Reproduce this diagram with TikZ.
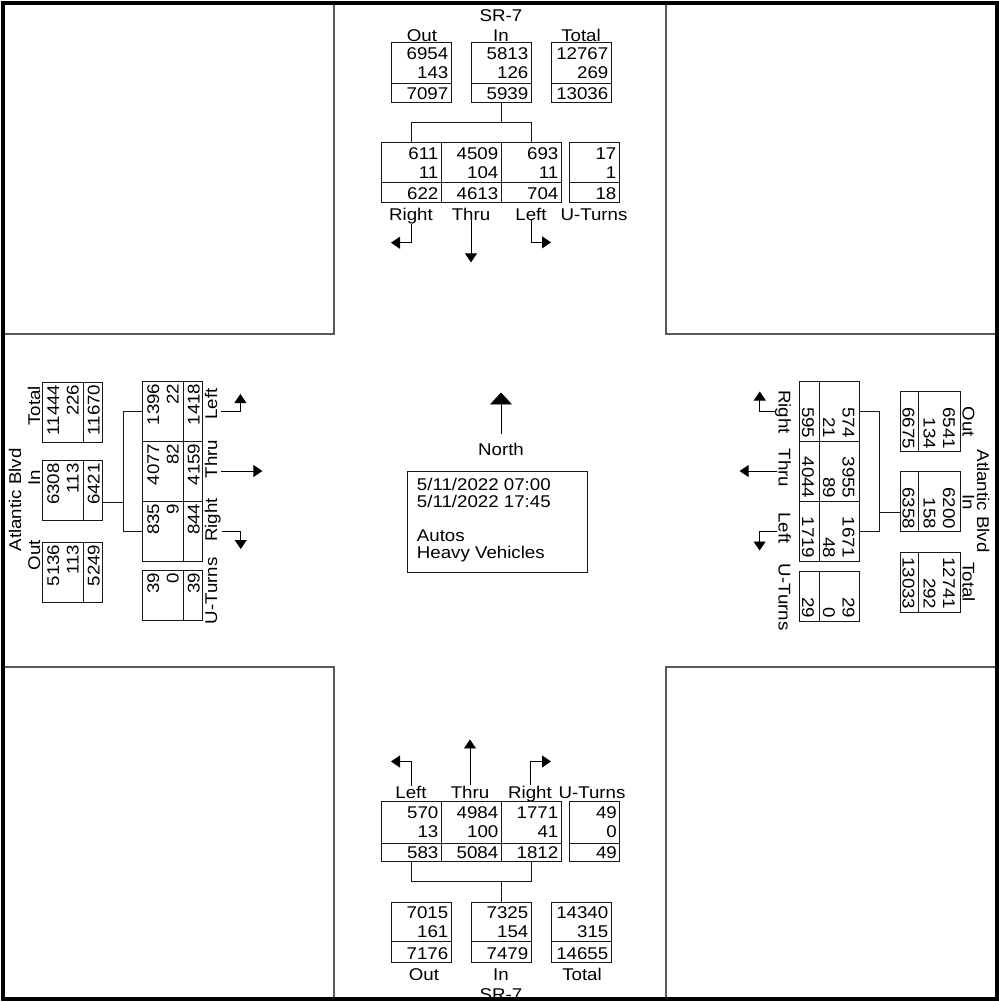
\documentclass[tikz,border=0pt]{standalone}
\usepackage{fontspec}
\setmainfont{Liberation Sans}[FakeStretch=1.1]
\usetikzlibrary{arrows.meta}

\begin{document}
\begin{tikzpicture}[x=1pt, y=-1pt, font=\fontsize{17}{19}\selectfont,
  box/.style={draw=black!90, line width=0.9pt, inner sep=0pt, minimum width=60pt, minimum height=60pt},
  ubox/.style={box, minimum width=50pt},
  uboxv/.style={box, minimum height=50pt},
  num/.style={anchor=base east, inner sep=0pt},
  lbl/.style={anchor=base, inner sep=0pt},
  link/.style={draw=black!90, line width=0.9pt},
  move/.style={line width=0.9pt, -{Triangle[length=9pt,width=12pt]}},
  corner/.style={draw=black!65, line width=1.3pt}]
\useasboundingbox (0,0) rectangle (999,1002);

% corner blocks
\draw[corner] (3,334) -- (334,334) -- (334,3);
\draw[corner] (666,3) -- (666,334) -- (997,334);
\draw[corner] (3,667) -- (334,667) -- (334,999);
\draw[corner] (997,667) -- (666,667) -- (666,999);

% north approach
\node[lbl] (tname) at (501,21.5) {SR-7};
\node[lbl] (toutl) at (422,41) {Out};
\node[lbl] (tinl) at (501,41) {In};
\node[lbl] (ttotl) at (581,41) {Total};
\node[box] (tout) at (421,72) {};
\node[box] (tin) at (501,72) {};
\node[box] (ttot) at (581,72) {};
\draw[link] ([yshift=19pt]tout.south west) -- ([yshift=19pt]tout.south east);
\draw[link] ([yshift=19pt]tin.south west) -- ([yshift=19pt]tin.south east);
\draw[link] ([yshift=19pt]ttot.south west) -- ([yshift=19pt]ttot.south east);
\node[num] (tout1) at (448.5,59) {6954};
\node[num] (tout2) at (448.5,78.5) {143};
\node[num] (tout3) at (448.5,99.5) {7097};
\node[num] (tin1) at (528.5,59) {5813};
\node[num] (tin2) at (528.5,78.5) {126};
\node[num] (tin3) at (528.5,99.5) {5939};
\node[num] (ttot1) at (608.5,59) {12767};
\node[num] (ttot2) at (608.5,78.5) {269};
\node[num] (ttot3) at (608.5,99.5) {13036};

\node[box] (trt) at (411,172) {};
\node[box] (tth) at (471,172) {};
\node[box] (tlt) at (531,172) {};
\node[ubox] (tut) at (594,172) {};
\draw[link] ([yshift=20pt]trt.south west) -- ([yshift=20pt]tlt.south east);
\draw[link] ([yshift=20pt]tut.south west) -- ([yshift=20pt]tut.south east);
\node[num] (trt1) at (438.5,159) {611};
\node[num] (trt2) at (438.5,178.5) {11};
\node[num] (trt3) at (438.5,199.5) {622};
\node[num] (tth1) at (498.5,159) {4509};
\node[num] (tth2) at (498.5,178.5) {104};
\node[num] (tth3) at (498.5,199.5) {4613};
\node[num] (tlt1) at (558.5,159) {693};
\node[num] (tlt2) at (558.5,178.5) {11};
\node[num] (tlt3) at (558.5,199.5) {704};
\node[num] (tut1) at (616.5,159) {17};
\node[num] (tut2) at (616.5,178.5) {1};
\node[num] (tut3) at (616.5,199.5) {18};

\path (tin.south) ++(0,20) coordinate (tfork);
\draw[link] (tin.south) -- (tfork);
\draw[link] (trt.north) |- (tfork) -| (tlt.north);

\node[lbl] (trlab) at (411,220) {Right};
\node[lbl] (ttlab) at (471,220) {Thru};
\node[lbl] (tllab) at (531,220) {Left};
\node[lbl] (tulab) at (594,220) {U-Turns};
\draw[move] (trlab.south) |- ++(-20,19);
\draw[move] (ttlab.south) -- ++(0,42);
\draw[move] (tllab.south) |- ++(20,22);

% south approach
\node[lbl] (bllab) at (411,798) {Left};
\node[lbl] (btlab) at (470,798) {Thru};
\node[lbl] (brlab) at (530,798) {Right};
\node[lbl] (bulab) at (592,798) {U-Turns};
\draw[move] (bllab.north) |- ++(-20,-24);
\draw[move] (btlab.north) -- ++(0,-46);
\draw[move] (brlab.north) |- ++(21,-24);

\node[box] (blt) at (411,831) {};
\node[box] (bth) at (471,831) {};
\node[box] (brt) at (531,831) {};
\node[ubox] (but) at (594.5,831) {};
\draw[link] ([yshift=18pt]blt.south west) -- ([yshift=18pt]brt.south east);
\draw[link] ([yshift=18pt]but.south west) -- ([yshift=18pt]but.south east);
\node[num] (blt1) at (438.5,818) {570};
\node[num] (blt2) at (438.5,837.5) {13};
\node[num] (blt3) at (438.5,858.5) {583};
\node[num] (bth1) at (498.5,818) {4984};
\node[num] (bth2) at (498.5,837.5) {100};
\node[num] (bth3) at (498.5,858.5) {5084};
\node[num] (brt1) at (558.5,818) {1771};
\node[num] (brt2) at (558.5,837.5) {41};
\node[num] (brt3) at (558.5,858.5) {1812};
\node[num] (but1) at (617,818) {49};
\node[num] (but2) at (617,837.5) {0};
\node[num] (but3) at (617,858.5) {49};

\node[box] (bout) at (421,932) {};
\node[box] (bin) at (501,932) {};
\node[box] (btot) at (581,932) {};
\draw[link] ([yshift=21pt]bout.south west) -- ([yshift=21pt]bout.south east);
\draw[link] ([yshift=21pt]bin.south west) -- ([yshift=21pt]bin.south east);
\draw[link] ([yshift=21pt]btot.south west) -- ([yshift=21pt]btot.south east);
\node[num] (bout1) at (448.5,918) {7015};
\node[num] (bout2) at (448.5,937.5) {161};
\node[num] (bout3) at (448.5,959.5) {7176};
\node[num] (bin1) at (528.5,918) {7325};
\node[num] (bin2) at (528.5,937.5) {154};
\node[num] (bin3) at (528.5,959.5) {7479};
\node[num] (btot1) at (608.5,918) {14340};
\node[num] (btot2) at (608.5,937.5) {315};
\node[num] (btot3) at (608.5,959.5) {14655};

\path (bin.north) ++(0,-20) coordinate (bfork);
\draw[link] (bin.north) -- (bfork);
\draw[link] (blt.south) |- (bfork) -| (brt.south);

\node[lbl] (boutl) at (424,980) {Out};
\node[lbl] (binl) at (501,980) {In};
\node[lbl] (btotl) at (582,980) {Total};
\node[lbl] (bname) at (501,1000) {SR-7};

% west approach
\node[lbl, rotate=90] (lname) at (21,500) {Atlantic Blvd};
\node[lbl, rotate=90] (ltotl) at (40,406) {Total};
\node[lbl, rotate=90] (linl) at (40,478) {In};
\node[lbl, rotate=90] (loutl) at (40,555) {Out};
\node[box] (ltot) at (72,412) {};
\node[box] (lin) at (72,490.5) {};
\node[box] (lout) at (72,572) {};
\draw[link] ([xshift=-19pt]ltot.north east) -- ([xshift=-19pt]ltot.south east);
\draw[link] ([xshift=-19pt]lin.north east) -- ([xshift=-19pt]lin.south east);
\draw[link] ([xshift=-19pt]lout.north east) -- ([xshift=-19pt]lout.south east);
\node[num, rotate=90] (ltot1) at (59,384.5) {11444};
\node[num, rotate=90] (ltot2) at (78.5,384.5) {226};
\node[num, rotate=90] (ltot3) at (99.5,384.5) {11670};
\node[num, rotate=90] (lin1) at (59,463) {6308};
\node[num, rotate=90] (lin2) at (78.5,463) {113};
\node[num, rotate=90] (lin3) at (99.5,463) {6421};
\node[num, rotate=90] (lout1) at (59,544.5) {5136};
\node[num, rotate=90] (lout2) at (78.5,544.5) {113};
\node[num, rotate=90] (lout3) at (99.5,544.5) {5249};

\node[box] (llt) at (172,411) {};
\node[box] (lth) at (172,471) {};
\node[box] (lrt) at (172,531) {};
\node[uboxv] (lut) at (172,595) {};
\draw[link] ([xshift=-19pt]llt.north east) -- ([xshift=-19pt]lrt.south east);
\draw[link] ([xshift=-19pt]lut.north east) -- ([xshift=-19pt]lut.south east);
\node[num, rotate=90] (llt1) at (159,383.5) {1396};
\node[num, rotate=90] (llt2) at (178.5,383.5) {22};
\node[num, rotate=90] (llt3) at (199.5,383.5) {1418};
\node[num, rotate=90] (lth1) at (159,443.5) {4077};
\node[num, rotate=90] (lth2) at (178.5,443.5) {82};
\node[num, rotate=90] (lth3) at (199.5,443.5) {4159};
\node[num, rotate=90] (lrt1) at (159,503.5) {835};
\node[num, rotate=90] (lrt2) at (178.5,503.5) {9};
\node[num, rotate=90] (lrt3) at (199.5,503.5) {844};
\node[num, rotate=90] (lut1) at (159,572.5) {39};
\node[num, rotate=90] (lut2) at (178.5,572.5) {0};
\node[num, rotate=90] (lut3) at (199.5,572.5) {39};

\path ([yshift=-11.5pt]lin.east) ++(21,0) coordinate (lfork);
\draw[link] ([yshift=-11.5pt]lin.east) -- (lfork);
\draw[link] (llt.west) -| (lfork) |- (lrt.west);

\node[lbl, rotate=90] (lllab) at (217,404) {Left};
\node[lbl, rotate=90] (ltlab) at (217,459) {Thru};
\node[lbl, rotate=90] (lrlab) at (217,520) {Right};
\node[lbl, rotate=90] (lulab) at (217,591) {U-Turns};
\draw[move] ([xshift=4pt]lllab.south |- llt.east) -| ++(19,-17);
\draw[move] ([xshift=4pt]ltlab.south |- lth.east) -- ++(41,0);
\draw[move] ([xshift=1pt]lrlab.south |- lrt.east) -| ++(19,18);

% east approach
\node[lbl, rotate=-90] (rname) at (977,501) {Atlantic Blvd};
\node[lbl, rotate=-90] (routl) at (962.5,422) {Out};
\node[lbl, rotate=-90] (rinl) at (962.5,502) {In};
\node[lbl, rotate=-90] (rtotl) at (962.5,582) {Total};
\node[box] (rout) at (930,421.5) {};
\node[box] (rin) at (930,501.5) {};
\node[box] (rtot) at (930,582) {};
\draw[link] ([xshift=19pt]rout.north west) -- ([xshift=19pt]rout.south west);
\draw[link] ([xshift=19pt]rin.north west) -- ([xshift=19pt]rin.south west);
\draw[link] ([xshift=19pt]rtot.north west) -- ([xshift=19pt]rtot.south west);
\node[num, rotate=-90] (rout1) at (943,449) {6541};
\node[num, rotate=-90] (rout2) at (923.5,449) {134};
\node[num, rotate=-90] (rout3) at (902.5,449) {6675};
\node[num, rotate=-90] (rin1) at (943,529) {6200};
\node[num, rotate=-90] (rin2) at (923.5,529) {158};
\node[num, rotate=-90] (rin3) at (902.5,529) {6358};
\node[num, rotate=-90] (rtot1) at (943,609.5) {12741};
\node[num, rotate=-90] (rtot2) at (923.5,609.5) {292};
\node[num, rotate=-90] (rtot3) at (902.5,609.5) {13033};

\node[box] (rrt) at (829.5,411) {};
\node[box] (rth) at (829.5,471) {};
\node[box] (rlt) at (829.5,531) {};
\node[uboxv] (rut) at (829.5,596) {};
\draw[link] ([xshift=20pt]rrt.north west) -- ([xshift=20pt]rlt.south west);
\draw[link] ([xshift=20pt]rut.north west) -- ([xshift=20pt]rut.south west);
\node[num, rotate=-90] (rrt1) at (842.5,438.5) {574};
\node[num, rotate=-90] (rrt2) at (823,438.5) {21};
\node[num, rotate=-90] (rrt3) at (802,438.5) {595};
\node[num, rotate=-90] (rth1) at (842.5,498.5) {3955};
\node[num, rotate=-90] (rth2) at (823,498.5) {89};
\node[num, rotate=-90] (rth3) at (802,498.5) {4044};
\node[num, rotate=-90] (rlt1) at (842.5,558.5) {1671};
\node[num, rotate=-90] (rlt2) at (823,558.5) {48};
\node[num, rotate=-90] (rlt3) at (802,558.5) {1719};
\node[num, rotate=-90] (rut1) at (842.5,618.5) {29};
\node[num, rotate=-90] (rut2) at (823,618.5) {0};
\node[num, rotate=-90] (rut3) at (802,618.5) {29};

\path ([yshift=-10.5pt]rin.west) ++(-20,0) coordinate (rfork);
\draw[link] ([yshift=-10.5pt]rin.west) -- (rfork);
\draw[link] (rrt.east) -| (rfork) |- (rlt.east);

\node[lbl, rotate=-90] (rrlab) at (778.5,412) {Right};
\node[lbl, rotate=-90] (rtlab) at (778.5,468) {Thru};
\node[lbl, rotate=-90] (rllab) at (778.5,528) {Left};
\node[lbl, rotate=-90] (rulab) at (778.5,597) {U-Turns};
\draw[move] (rrlab.south |- rrt.west) -| ++(-15,-19.5);
\draw[move] ([xshift=-1pt]rtlab.south |- rth.west) -- ++(-37.5,0);
\draw[move] ([xshift=-1pt]rllab.south |- rlt.west) -| ++(-17.5,19.5);

% centre
\node[lbl] (nlab) at (501,455) {North};
\draw[line width=0.9pt, -{Triangle[length=12pt,width=22pt]}] ([yshift=8pt]nlab.north) -- ++(0,-42);
\node[draw=black!90, line width=0.9pt, minimum width=180pt, minimum height=101pt] (info) at (497,521.5) {};
\node[anchor=base west, inner sep=0pt] (date1) at (416.7,490) {5/11/2022 07:00};
\node[anchor=base west, inner sep=0pt] (date2) at (416.7,507) {5/11/2022 17:45};
\node[anchor=base west, inner sep=0pt] (cls1) at (416.7,541) {Autos};
\node[anchor=base west, inner sep=0pt] (cls2) at (416.7,558) {Heavy Vehicles};

\draw[line width=4.3pt] (3.2,3.2) rectangle (996.8,998.8);
\end{tikzpicture}
\end{document}
